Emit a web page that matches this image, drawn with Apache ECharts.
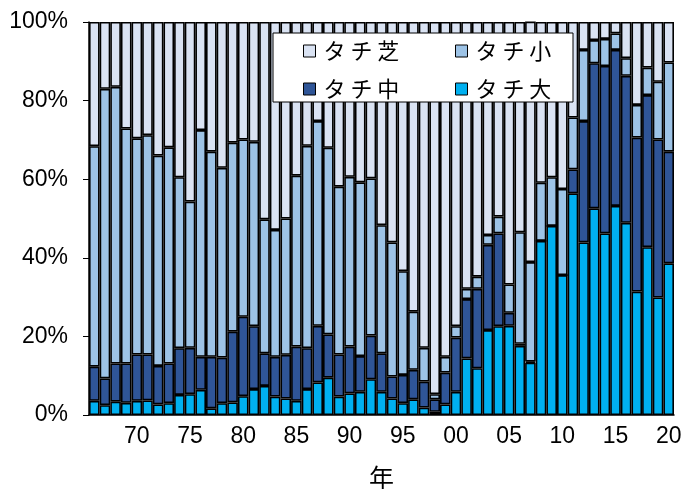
<!DOCTYPE html>
<html>
<head>
<meta charset="utf-8">
<script src="https://cdn.jsdelivr.net/npm/echarts@6/dist/echarts.min.js"></script>
<style>
  html, body { margin: 0; padding: 0; background: #fff; }
  #chart { width: 682px; height: 489px; }
</style>
</head>
<body>
<div id="chart"></div>
<script>
  // years 1966..2020
  var years = []
  for (var y = 1966; y <= 2020; y++) years.push(y)

  // shares (%), per year
  var taiData = [3.6,2.5,3.4,3.1,3.6,3.7,2.7,3.0,5.1,5.3,6.4,1.7,3.0,3.2,4.8,6.6,7.4,4.7,4.2,3.6,6.6,8.3,9.5,4.7,5.5,5.9,9.1,5.9,4.2,3.0,4.0,1.9,0.8,2.7,5.9,14.4,11.9,21.6,22.6,22.7,17.6,13.3,44.3,48.1,35.6,56.4,43.9,52.6,46.2,53.2,48.9,31.4,42.7,29.9,38.6]
  var chuData = [8.7,6.8,9.7,10.0,11.8,11.7,9.8,10.1,11.9,11.8,8.4,13.1,11.6,18.0,20.2,16.0,8.3,10.1,11.1,13.8,10.4,14.4,11.0,10.7,11.9,9.1,11.1,9.8,5.6,7.2,7.5,6.6,3.2,8.1,13.8,15.1,20.2,21.7,23.6,3.3,0.5,0.3,0,0,0,6.1,30.9,36.9,42.6,39.7,37.4,39.2,38.7,40.2,28.4]
  var shoData = [56.1,73.7,70.4,59.8,55.0,55.8,53.5,55.0,43.5,37.2,57.7,52.2,48.3,48.1,45.1,46.9,34.1,32.3,34.7,43.5,51.5,52.1,47.5,42.7,43.2,44.2,40.0,32.6,34.1,26.4,14.8,8.6,1.3,4.0,2.9,2.6,3.1,2.5,4.3,7.2,28.4,25.3,14.8,12.4,21.9,13.2,18.1,5.9,6.9,4.2,4.5,8.3,7.0,14.7,22.7]
  var shibaData = [31.6,17.0,16.5,27.1,29.6,28.8,34.0,31.9,39.5,45.7,27.5,33.0,37.1,30.7,29.9,30.5,50.2,52.9,50.0,39.1,31.5,25.2,32.0,41.9,39.4,40.8,39.8,51.7,56.1,63.4,73.7,82.9,94.7,85.2,77.4,67.9,64.8,54.2,49.5,66.8,53.5,61.2,40.9,39.5,42.5,24.3,7.1,4.6,4.3,2.9,9.2,21.1,11.6,15.2,10.3]

  var seriesNames = ['タチ大', 'タチ中', 'タチ小', 'タチ芝']
  var seriesColors = ['#00B0F0', '#2F5597', '#9DC3E6', '#DAE3F3']
  var seriesValues = [taiData, chuData, shoData, shibaData]

  var font = '"Liberation Sans", Arial, sans-serif'
  var jpFont = '"Noto Sans CJK JP", sans-serif'

  var myChart = echarts.init(document.getElementById('chart'))

  var seriesData = []
  seriesNames.map(function (name, i) {
    seriesData.push({
      name: name,
      type: 'bar',
      stack: 'all',
      data: seriesValues[i],
      barWidth: '100%',
      itemStyle: {
        color: seriesColors[i],
        borderColor: '#000',
        borderWidth: 1.6
      }
    })
  })

  function legendItem(name, left, top) {
    return {
      data: [name],
      left: left,
      top: top,
      itemWidth: 12,
      itemHeight: 12,
      icon: 'rect',
      itemStyle: { borderColor: '#000', borderWidth: 1 },
      textStyle: { fontFamily: jpFont, fontSize: 22, color: '#000', padding: [0, 0, 0, 3] },
      formatter: function (n) { return n.split('').join(' ') },
      selectedMode: false
    }
  }

  var option = {
    animation: false,
    backgroundColor: '#fff',
    grid: { left: 89, right: 8, top: 22, bottom: 74, outerBoundsMode: 'none', containLabel: false },
    graphic: [{
      type: 'rect',
      z: 3,
      shape: { x: 273, y: 33, width: 300, height: 69 },
      style: { fill: '#fff', stroke: '#000', lineWidth: 1 }
    }],
    legend: [
      legendItem('タチ芝', 298, 35),
      legendItem('タチ小', 450, 35),
      legendItem('タチ中', 298, 73),
      legendItem('タチ大', 450, 73)
    ],
    xAxis: {
      type: 'category',
      data: years,
      name: '年',
      nameLocation: 'middle',
      nameGap: 50,
      nameTextStyle: { fontFamily: jpFont, fontSize: 25, color: '#000' },
      axisLine: { lineStyle: { color: '#000', width: 1.5 } },
      axisTick: { interval: 0, length: 6, lineStyle: { color: '#444' } },
      axisLabel: {
        interval: 0,
        margin: 10,
        fontFamily: font,
        fontSize: 23,
        color: '#000',
        formatter: function (v) {
          return v % 5 === 0 ? String(v).slice(2) : ''
        }
      }
    },
    yAxis: {
      type: 'value',
      min: 0,
      max: 100,
      interval: 20,
      axisLine: { show: true, lineStyle: { color: '#000', width: 1.5 } },
      axisTick: { show: true, length: 6, lineStyle: { color: '#000' } },
      splitLine: { show: false },
      axisLabel: {
        margin: 21,
        fontFamily: font,
        fontSize: 23,
        color: '#000',
        formatter: '{value}%'
      }
    },
    series: seriesData
  }
  myChart.setOption(option)
</script>
</body>
</html>
